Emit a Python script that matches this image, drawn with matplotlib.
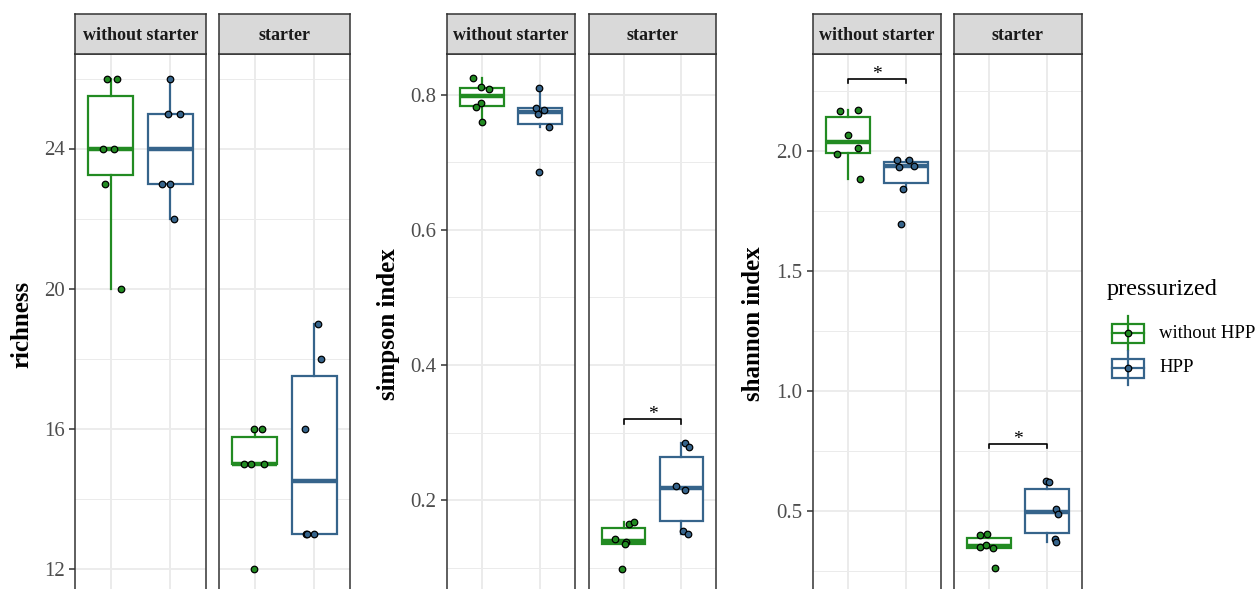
import matplotlib
matplotlib.use("Agg")
import matplotlib.pyplot as plt
from matplotlib.patches import Rectangle

W, H = 1260, 589
plt.rcParams['font.family'] = ['Liberation Serif', 'DejaVu Serif']

groups = ['without HPP', 'HPP']
facets = ['without starter', 'starter']
group_colors = ['#228B22', '#36648B']

# richness
richness_ws_none = [26, 26, 24, 24, 23, 20]
richness_ws_hpp = [26, 25, 25, 23, 23, 22]
richness_st_none = [16, 16, 15, 15, 15, 12]
richness_st_hpp = [19, 18, 16, 13, 13, 13]

# simpson index
simpson_ws_none = [0.824, 0.811, 0.808, 0.787, 0.782, 0.760]
simpson_ws_hpp = [0.810, 0.781, 0.777, 0.772, 0.752, 0.685]
simpson_st_none = [0.165, 0.168, 0.142, 0.138, 0.135, 0.099]
simpson_st_hpp = [0.284, 0.279, 0.221, 0.215, 0.1545, 0.150]

# shannon index
shannon_ws_none = [2.166, 2.168, 2.065, 2.010, 1.986, 1.881]
shannon_ws_hpp = [1.961, 1.960, 1.933, 1.938, 1.841, 1.696]
shannon_st_none = [0.399, 0.403, 0.350, 0.357, 0.347, 0.261]
shannon_st_hpp = [0.626, 0.619, 0.507, 0.488, 0.385, 0.372]

# horizontal jitter of the sample points (x units)
jit_richness = [[-0.067, 0.105, -0.13, 0.05, -0.09, 0.18], [0.0, -0.034, 0.156, -0.14, 0.0, 0.07],
                [-0.005, 0.118, -0.18, -0.07, 0.15, -0.017], [0.055, 0.12, -0.15, -0.14, -0.01, -0.12]]
jit_simpson = [[-0.15, -0.01, 0.126, -0.01, -0.10, -0.007], [-0.017, -0.064, 0.07, -0.04, 0.16, -0.024],
               [0.093, 0.18, -0.155, 0.047, 0.017, -0.034], [0.058, 0.133, -0.091, 0.064, 0.03, 0.115]]
jit_shannon = [[-0.13, 0.17, 0.007, 0.167, -0.19, 0.2], [-0.155, 0.05, -0.13, 0.13, -0.05, -0.08],
               [-0.16, -0.034, -0.16, -0.045, 0.07, 0.11], [-0.02, 0.03, 0.15, 0.19, 0.13, 0.16]]

metrics = [
    dict(label='richness',
         data=[[richness_ws_none, richness_ws_hpp], [richness_st_none, richness_st_hpp]],
         jitter=jit_richness, ylim=(11.3, 26.7),
         major=[12, 16, 20, 24], minor=[14, 18, 22, 26], fmt='{:.0f}',
         sig={}, xpx=[(75, 206), (219, 350)], label_x=22),
    dict(label='simpson index',
         data=[[simpson_ws_none, simpson_ws_hpp], [simpson_st_none, simpson_st_hpp]],
         jitter=jit_simpson, ylim=(0.0628, 0.8602),
         major=[0.2, 0.4, 0.6, 0.8], minor=[0.1, 0.3, 0.5, 0.7], fmt='{:.1f}',
         sig={1: 0.32}, xpx=[(447, 575), (589, 716)], label_x=388),
    dict(label='shannon index',
         data=[[shannon_ws_none, shannon_ws_hpp], [shannon_st_none, shannon_st_hpp]],
         jitter=jit_shannon, ylim=(0.159, 2.402),
         major=[0.5, 1.0, 1.5, 2.0], minor=[0.25, 0.75, 1.25, 1.75, 2.25], fmt='{:.1f}',
         sig={0: 2.30, 1: 0.781}, xpx=[(813, 941), (954, 1082)], label_x=753),
]

PANEL_TOP, PANEL_BOTTOM, STRIP_TOP = 54, 593, 14
BORDER = '#333333'


def add_px_axes(fig, x0, x1, y0, y1):
    return fig.add_axes([x0 / W, 1 - y1 / H, (x1 - x0) / W, (y1 - y0) / H])


fig = plt.figure(figsize=(W / 100, H / 100), dpi=100)

for m in metrics:
    for fi, facet in enumerate(facets):
        x0, x1 = m['xpx'][fi]
        ax = add_px_axes(fig, x0, x1, PANEL_TOP, PANEL_BOTTOM)
        ax.set_xlim(0.4, 2.6)
        ax.set_ylim(*m['ylim'])
        ax.set_yticks(m['major'])
        ax.set_yticks(m['minor'], minor=True)
        ax.set_xticks([1, 2])
        ax.grid(True, which='major', color='#EBEBEB', lw=1.3, zorder=0)
        ax.grid(True, which='minor', axis='y', color='#EBEBEB', lw=0.7, zorder=0)
        ax.set_axisbelow(True)
        ax.tick_params(axis='x', length=0, labelbottom=False)
        ax.tick_params(axis='y', which='minor', length=0)
        if fi == 0:
            ax.set_yticklabels([m['fmt'].format(v) for v in m['major']])
            ax.tick_params(axis='y', which='major', length=4.5, width=1.1, color=BORDER,
                           labelsize=15, labelcolor='#4D4D4D', pad=3)
        else:
            ax.tick_params(axis='y', which='major', length=0, labelleft=False)
        for s in ax.spines.values():
            s.set_color(BORDER)
            s.set_linewidth(1.1)

        for gi, col in enumerate(group_colors):
            vals = m['data'][fi][gi]
            ax.boxplot([vals], positions=[gi + 1], widths=0.75, whis=1.5, showfliers=False,
                       showcaps=False, patch_artist=True,
                       boxprops=dict(facecolor='white', edgecolor=col, linewidth=1.6),
                       whiskerprops=dict(color=col, linewidth=1.6),
                       medianprops=dict(color=col, linewidth=3.2, solid_capstyle='butt'),
                       zorder=2)
            jit = m['jitter'][fi * 2 + gi]
            ax.scatter([gi + 1 + j for j in jit], vals, s=22, c=col,
                       edgecolors='black', linewidths=0.9, zorder=3)

        if fi in m['sig']:
            yb = m['sig'][fi]
            tick = (m['ylim'][1] - m['ylim'][0]) * 0.009
            ax.plot([1, 1, 2, 2], [yb - tick, yb, yb, yb - tick], color='black', lw=1.2, zorder=4)
            ax.text(1.5, yb, '*', ha='center', va='baseline', fontsize=14, zorder=4)

        # facet strip
        sax = add_px_axes(fig, x0, x1, STRIP_TOP, PANEL_TOP)
        sax.set_facecolor('#D9D9D9')
        sax.set_xticks([])
        sax.set_yticks([])
        for s in sax.spines.values():
            s.set_color(BORDER)
            s.set_linewidth(1.1)
        sax.text(0.5, 0.5, facet, ha='center', va='center_baseline', fontsize=13,
                 fontweight='bold', color='#1A1A1A', transform=sax.transAxes)

    fig.text(m['label_x'] / W, 1 - 324 / H, m['label'], rotation=90, ha='center', va='center',
             fontsize=18, fontweight='bold')

# legend drawn in pixel space on a transparent overlay
lax = fig.add_axes([0, 0, 1, 1])
lax.set_xlim(0, W)
lax.set_ylim(H, 0)
lax.axis('off')
lax.text(1107, 290, 'pressurized', ha='left', va='center', fontsize=17.5)
for gi, (name, col) in enumerate(zip(groups, group_colors)):
    cy = 333 + gi * 35
    cx = 1128
    lax.plot([cx, cx], [cy - 17, cy + 17], color=col, lw=1.6)
    lax.add_patch(Rectangle((cx - 16, cy - 9.5), 32, 19, facecolor='white', edgecolor=col, lw=1.6))
    lax.plot([cx - 16, cx + 16], [cy, cy], color=col, lw=1.6)
    lax.scatter([cx], [cy], s=22, c=col, edgecolors='black', linewidths=0.9, zorder=3)
    lax.text(1159, cy, name, ha='left', va='center', fontsize=13.5)

fig.savefig('out.png', dpi=100)
